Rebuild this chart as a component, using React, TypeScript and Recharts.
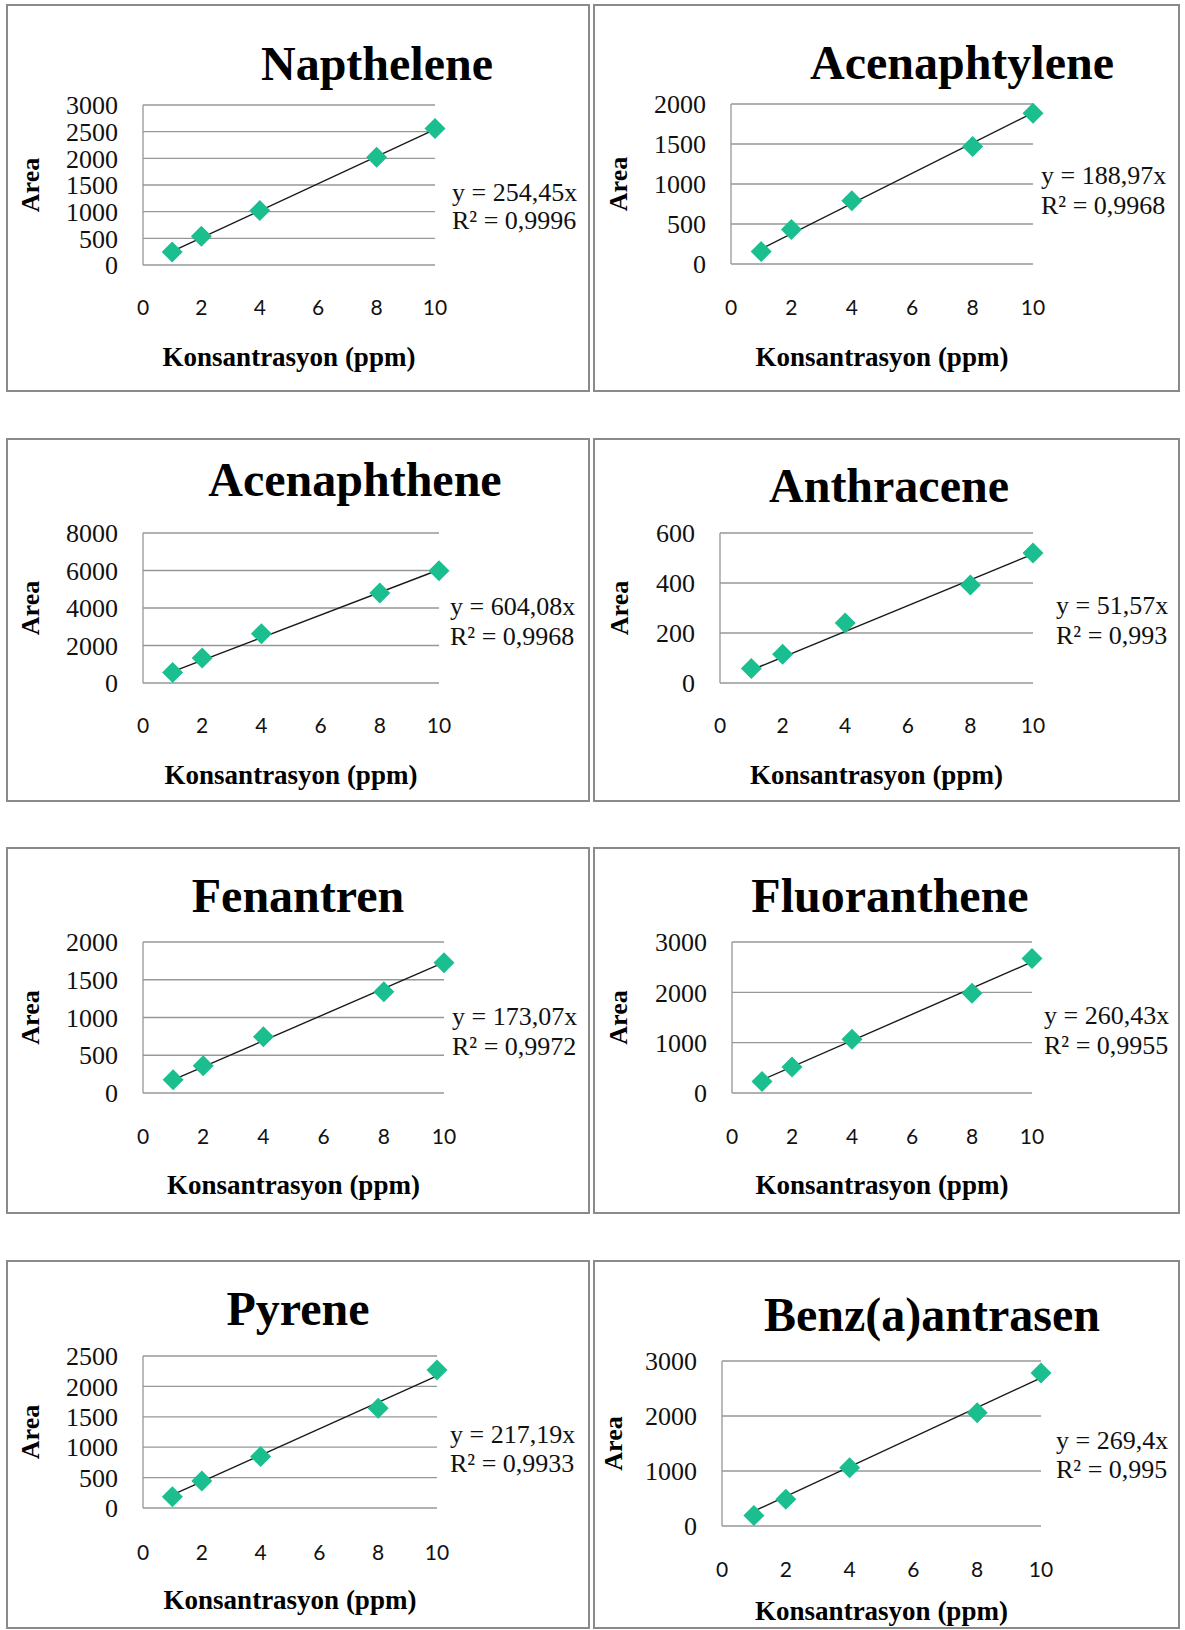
import React from 'react';
import { ScatterChart, Scatter, XAxis, YAxis, CartesianGrid, ReferenceLine, Label } from 'recharts';

// ---------- data ----------
const concentrations = [1, 2, 4, 8, 10];
const xTicks = [0, 2, 4, 6, 8, 10];
const xAxisTitle = 'Konsantrasyon (ppm)';
const yAxisTitle = 'Area';

const titles = [
  'Napthelene',
  'Acenaphtylene',
  'Acenaphthene',
  'Anthracene',
  'Fenantren',
  'Fluoranthene',
  'Pyrene',
  'Benz(a)antrasen',
];

const napthelene = [245, 540, 1020, 2020, 2560];
const acenaphtylene = [155, 430, 790, 1470, 1885];
const acenaphthene = [560, 1330, 2630, 4800, 5990];
const anthracene = [58, 115, 240, 392, 520];
const fenantren = [175, 360, 745, 1340, 1725];
const fluoranthene = [230, 515, 1070, 1980, 2670];
const pyrene = [185, 445, 845, 1640, 2270];
const benzAAntrasen = [190, 485, 1060, 2060, 2780];

const seriesList = [
  napthelene,
  acenaphtylene,
  acenaphthene,
  anthracene,
  fenantren,
  fluoranthene,
  pyrene,
  benzAAntrasen,
];

const slopes = [254.45, 188.97, 604.08, 51.57, 173.07, 260.43, 217.19, 269.4];
const equationLabels = [
  'y = 254,45x',
  'y = 188,97x',
  'y = 604,08x',
  'y = 51,57x',
  'y = 173,07x',
  'y = 260,43x',
  'y = 217,19x',
  'y = 269,4x',
];
const r2Labels = [
  'R² = 0,9996',
  'R² = 0,9968',
  'R² = 0,9968',
  'R² = 0,993',
  'R² = 0,9972',
  'R² = 0,9955',
  'R² = 0,9933',
  'R² = 0,995',
];

const yTicksNapthelene = [0, 500, 1000, 1500, 2000, 2500, 3000];
const yTicksAcenaphtylene = [0, 500, 1000, 1500, 2000];
const yTicksAcenaphthene = [0, 2000, 4000, 6000, 8000];
const yTicksAnthracene = [0, 200, 400, 600];
const yTicksFenantren = [0, 500, 1000, 1500, 2000];
const yTicksFluoranthene = [0, 1000, 2000, 3000];
const yTicksPyrene = [0, 500, 1000, 1500, 2000, 2500];
const yTicksBenz = [0, 1000, 2000, 3000];

const yTickSets = [
  yTicksNapthelene,
  yTicksAcenaphtylene,
  yTicksAcenaphthene,
  yTicksAnthracene,
  yTicksFenantren,
  yTicksFluoranthene,
  yTicksPyrene,
  yTicksBenz,
];

// ---------- layout (page pixels) ----------
type PanelLayout = {
  box: number[]; // left, top, right, bottom
  plot: number[]; // left, top, right, bottom
  titleX: number;
  titleY: number;
  eqX: number;
  eqY: number[];
  xTickY: number;
  xTitleY: number;
  areaX: number;
};

const layout: PanelLayout[] = [
  { box: [6, 4, 590, 392], plot: [143, 105, 435, 265], titleX: 377, titleY: 80, eqX: 452, eqY: [201, 229], xTickY: 307, xTitleY: 366, areaX: 31 },
  { box: [593, 4, 1180, 392], plot: [731, 104, 1033, 264], titleX: 962, titleY: 79, eqX: 1041, eqY: [184, 214], xTickY: 307, xTitleY: 366, areaX: 619 },
  { box: [6, 438, 590, 802], plot: [143, 533, 439, 683], titleX: 355, titleY: 496, eqX: 450, eqY: [615, 645], xTickY: 725, xTitleY: 784, areaX: 31 },
  { box: [593, 438, 1180, 802], plot: [720, 533, 1033, 683], titleX: 889, titleY: 502, eqX: 1056, eqY: [614, 644], xTickY: 725, xTitleY: 784, areaX: 620 },
  { box: [6, 847, 590, 1214], plot: [143, 942, 444, 1093], titleX: 298, titleY: 912, eqX: 452, eqY: [1025, 1055], xTickY: 1136, xTitleY: 1194, areaX: 31 },
  { box: [593, 847, 1180, 1214], plot: [732, 942, 1032, 1093], titleX: 890, titleY: 912, eqX: 1044, eqY: [1024, 1054], xTickY: 1136, xTitleY: 1194, areaX: 619 },
  { box: [6, 1260, 590, 1629], plot: [143, 1356, 437, 1508], titleX: 298, titleY: 1325, eqX: 450, eqY: [1443, 1472], xTickY: 1552, xTitleY: 1609, areaX: 31 },
  { box: [593, 1260, 1180, 1629], plot: [722, 1361, 1041, 1526], titleX: 932, titleY: 1331, eqX: 1056, eqY: [1449, 1478], xTickY: 1569, xTitleY: 1620, areaX: 614 },
];

// ---------- styles ----------
const SERIF = '"Liberation Serif", "Times New Roman", serif';
const SANS = 'Lato, "Open Sans", sans-serif';
const MARKER = '#1BBF8F';
const GRID = '#979797';
const BORDER = '#8a8a8a';

const Diamond = (props: any) => {
  const { cx, cy } = props;
  if (cx == null || cy == null) return null;
  const r = 10.5;
  return (
    <polygon
      points={`${cx},${cy - r} ${cx + r},${cy} ${cx},${cy + r} ${cx - r},${cy}`}
      fill={MARKER}
    />
  );
};

function Panel({ i }: { i: number }) {
  const L = layout[i];
  const [bl, bt, br, bb] = L.box;
  const w = br - bl;
  const h = bb - bt;
  const [pl, pt, pr, pb] = L.plot;
  const series = seriesList[i];
  const data = concentrations.map((x, k) => ({ x, y: series[k] }));
  const ticks = yTickSets[i];
  const yMax = ticks[ticks.length - 1];
  const slope = slopes[i];
  const xFirst = concentrations[0];
  const xLast = concentrations[concentrations.length - 1];

  return (
    <>
      <div
        style={{
          position: 'absolute',
          left: bl,
          top: bt,
          width: w,
          height: h,
          boxSizing: 'border-box',
          border: `2px solid ${BORDER}`,
          background: '#fff',
        }}
      />
      <div style={{ position: 'absolute', left: bl, top: bt, width: w, height: h }}>
        <ScatterChart
          width={w}
          height={h}
          margin={{ top: pt - bt, right: br - pr, bottom: 0, left: 0 }}
        >
          <CartesianGrid vertical={false} stroke={GRID} strokeWidth={1.3} />
          <XAxis
            type="number"
            dataKey="x"
            domain={[0, 10]}
            ticks={xTicks}
            interval={0}
            height={bb - pb}
            axisLine={false}
            tickLine={false}
            tickSize={0}
            tickMargin={L.xTickY - 7 - pb}
            tick={{ fontFamily: SANS, fontSize: 21, fill: '#111' }}
          >
            <Label
              content={() => (
                <text
                  x={(pl + pr) / 2 - bl}
                  y={L.xTitleY - bt}
                  textAnchor="middle"
                  fontFamily={SERIF}
                  fontWeight="bold"
                  fontSize={27}
                  fill="#000"
                >
                  {xAxisTitle}
                </text>
              )}
            />
          </XAxis>
          <YAxis
            type="number"
            dataKey="y"
            domain={[0, yMax]}
            ticks={ticks}
            interval={0}
            width={pl - bl}
            axisLine={{ stroke: GRID, strokeWidth: 1.3 }}
            tickLine={false}
            tickSize={0}
            tickMargin={25}
            tick={{ fontFamily: SERIF, fontSize: 26, fill: '#111' }}
          >
            <Label
              content={() => (
                <text
                  transform={`translate(${L.areaX - bl + 8}, ${(pt + pb) / 2 - bt}) rotate(-90)`}
                  textAnchor="middle"
                  fontFamily={SERIF}
                  fontWeight="bold"
                  fontSize={26}
                  fill="#000"
                >
                  {yAxisTitle}
                </text>
              )}
            />
          </YAxis>
          <Scatter data={data} fill={MARKER} shape={Diamond} isAnimationActive={false} />
          <ReferenceLine
            segment={[
              { x: xFirst, y: slope * xFirst },
              { x: xLast, y: slope * xLast },
            ]}
            stroke="#1a1a1a"
            strokeWidth={1.4}
            ifOverflow="visible"
          />
        </ScatterChart>
      </div>
      <svg
        width={w}
        height={h}
        style={{ position: 'absolute', left: bl, top: bt, pointerEvents: 'none', overflow: 'visible' }}
      >
        <text
          x={L.titleX - bl}
          y={L.titleY - bt}
          textAnchor="middle"
          fontFamily={SERIF}
          fontWeight="bold"
          fontSize={48}
          fill="#000"
        >
          {titles[i]}
        </text>
        <text x={L.eqX - bl} y={L.eqY[0] - bt} fontFamily={SERIF} fontSize={26} fill="#111">
          {equationLabels[i]}
        </text>
        <text x={L.eqX - bl} y={L.eqY[1] - bt} fontFamily={SERIF} fontSize={26} fill="#111">
          {r2Labels[i]}
        </text>
      </svg>
    </>
  );
}

export default function App() {
  return (
    <div
      style={{
        position: 'absolute',
        left: 0,
        top: 0,
        width: 1185,
        height: 1630,
        background: '#fff',
        overflow: 'hidden',
      }}
    >
      {titles.map((_, i) => (
        <Panel key={i} i={i} />
      ))}
    </div>
  );
}
